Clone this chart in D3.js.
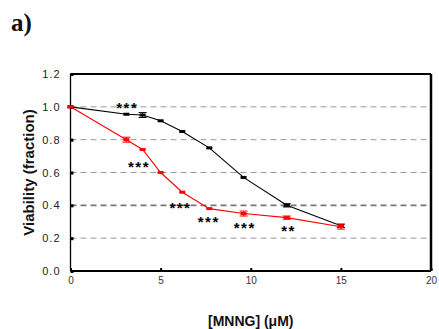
<!DOCTYPE html>
<html>
<head>
<meta charset="utf-8">
<script src="https://cdn.jsdelivr.net/npm/d3@7"></script>
<style>
  body { margin: 0; background: #fff; }
  svg { display: block; font-family: "Liberation Sans", Arial, sans-serif; }
</style>
</head>
<body>
<div id="chart-area"></div>
<script>
// data
var doses = [0, 3.1, 4, 5, 6.2, 7.7, 9.6, 12, 15];
var controlVals = [1.0, 0.955, 0.95, 0.915, 0.85, 0.75, 0.57, 0.40, 0.275];
var controlErr = [0, 0, 0.015, 0, 0, 0, 0, 0.01, 0.01];
var treatedVals = [1.0, 0.80, 0.74, 0.60, 0.48, 0.38, 0.35, 0.325, 0.27];
var treatedErr = [0, 0.015, 0, 0, 0, 0, 0.015, 0.01, 0.015];
var starX = [3.15, 3.8, 6.1, 7.67, 9.67, 12.1];
var starY = [1.005, 0.645, 0.395, 0.31, 0.273, 0.257];
var starText = ["***", "***", "***", "***", "***", "**"];
var xTicks = [0, 5, 10, 15, 20];
var yTicks = [0, 0.2, 0.4, 0.6, 0.8, 1.0, 1.2];
var gridVals = [0.2, 0.4, 0.6, 0.8, 1.0];

var W = 439, H = 329;
var margin = {top: 74, right: 8, bottom: 58, left: 70.5};
var width = W - margin.left - margin.right;
var height = H - margin.top - margin.bottom;

var svg = d3.select("#chart-area").append("svg")
  .attr("width", W)
  .attr("height", H);

svg.append("text")
  .attr("x", 11)
  .attr("y", 31)
  .attr("font-family", "'Liberation Serif', serif")
  .attr("font-weight", "bold")
  .attr("font-size", "25px")
  .style("fill", "#111")
  .text("a)");

var g = svg.append("g")
  .attr("transform", "translate(" + margin.left + "," + margin.top + ")");

var x = d3.scaleLinear().domain([0, 20]).range([0, width]);
var y = d3.scaleLinear().domain([0, 1.2]).range([height, 0]);

// dashed grid
g.selectAll(".grid").data(gridVals).enter()
  .append("line")
  .attr("class", "grid")
  .attr("x1", 0).attr("x2", width)
  .attr("y1", (d) => y(d)).attr("y2", (d) => y(d))
  .style("stroke", (d) => d === 0.4 ? "#777" : "#999")
  .style("stroke-width", (d) => d === 0.4 ? 1.6 : 1)
  .style("stroke-dasharray", "6,4");

// axes
var bottomAxis = d3.axisBottom(x).tickValues(xTicks).tickSize(-3).tickPadding(6)
  .tickFormat(d3.format("d"));
var xg = g.append("g")
  .attr("transform", "translate(0," + height + ")")
  .call(bottomAxis);
xg.select(".domain").remove();
xg.selectAll("line").style("stroke", "#000").style("stroke-width", 2);
xg.selectAll("text").attr("font-size", "10px").style("fill", "#333");

var leftAxis = d3.axisLeft(y).tickValues(yTicks).tickSize(-3).tickPadding(10)
  .tickFormat(d3.format(".1f"));
var yg = g.append("g").call(leftAxis);
yg.select(".domain").remove();
yg.selectAll("line").style("stroke", "#000").style("stroke-width", 3);
yg.selectAll("text").attr("font-size", "11px").style("fill", "#222")
  .style("letter-spacing", "1px");

// frame
g.append("line").attr("x1", 0).attr("x2", width).attr("y1", 0).attr("y2", 0)
  .style("stroke", "#000").style("stroke-width", 2);
g.append("line").attr("x1", width).attr("x2", width).attr("y1", 0).attr("y2", height)
  .style("stroke", "#000").style("stroke-width", 2.5);
g.append("line").attr("x1", 0).attr("x2", width).attr("y1", height).attr("y2", height)
  .style("stroke", "#000").style("stroke-width", 2);
g.append("line").attr("x1", 0).attr("x2", 0).attr("y1", 0).attr("y2", height)
  .style("stroke", "#000").style("stroke-width", 1.3);

// series
function drawSeries(vals, errs, color) {
  var pts = doses.map((d, i) => ({x: d, y: vals[i], e: errs[i]}));
  var line = d3.line().x((d) => x(d.x)).y((d) => y(d.y));
  g.append("path").datum(pts)
    .attr("d", line)
    .style("fill", "none")
    .style("stroke", color)
    .style("stroke-width", 1.1);
  var eb = g.selectAll(null).data(pts.filter((d) => d.e > 0)).enter().append("g");
  eb.append("line")
    .attr("x1", (d) => x(d.x)).attr("x2", (d) => x(d.x))
    .attr("y1", (d) => y(d.y + d.e)).attr("y2", (d) => y(d.y - d.e))
    .style("stroke", color).style("stroke-width", 1);
  [1, -1].forEach((s) => {
    eb.append("line")
      .attr("x1", (d) => x(d.x) - 4).attr("x2", (d) => x(d.x) + 4)
      .attr("y1", (d) => y(d.y + s * d.e)).attr("y2", (d) => y(d.y + s * d.e))
      .style("stroke", color).style("stroke-width", 1);
  });
  g.selectAll(null).data(pts).enter().append("rect")
    .attr("x", (d) => x(d.x) - 3)
    .attr("y", (d) => y(d.y) - 1.5)
    .attr("width", 6).attr("height", 3)
    .style("fill", color);
}
drawSeries(controlVals, controlErr, "#000");
drawSeries(treatedVals, treatedErr, "#f00");

// significance stars
g.selectAll(".star").data(starX).enter()
  .append("text")
  .attr("class", "star")
  .attr("x", (d) => x(d))
  .attr("y", (d, i) => y(starY[i]) + 7)
  .attr("text-anchor", "middle")
  .attr("font-size", "15px")
  .attr("font-weight", "bold")
  .style("letter-spacing", "1.5px")
  .style("fill", "#000")
  .text((d, i) => starText[i]);

// axis titles
svg.append("text")
  .attr("x", margin.left + x(10))
  .attr("y", 326)
  .attr("text-anchor", "middle")
  .attr("font-size", "14px")
  .attr("font-weight", "bold")
  .style("fill", "#111")
  .text("[MNNG] (\u03bcM)");

svg.append("text")
  .attr("transform", "translate(34," + (margin.top + y(0.6)) + ") rotate(-90)")
  .attr("text-anchor", "middle")
  .attr("font-size", "15px")
  .attr("font-weight", "bold")
  .style("fill", "#111")
  .text("Viability (fraction)");
</script>
</body>
</html>
